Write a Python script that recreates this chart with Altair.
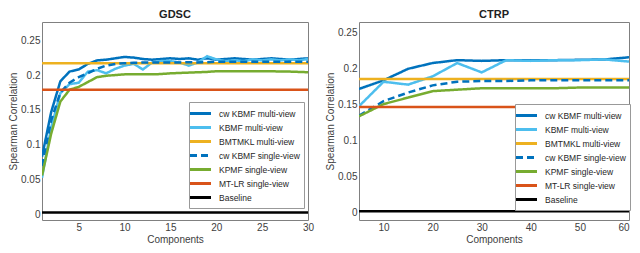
import altair as alt
import pandas as pd

methods = ["cw KBMF multi-view", "KBMF multi-view", "BMTMKL multi-view",
           "cw KBMF single-view", "KPMF single-view", "MT-LR single-view", "Baseline"]
colors = ["#0072BD", "#4DBEEE", "#EDB120", "#0072BD", "#77AC30", "#D95319", "#000000"]
dashes = [[1, 0], [1, 0], [1, 0], [7, 4], [1, 0], [1, 0], [1, 0]]

# GDSC
gdsc_x = list(range(1, 31))
gdsc_cw_multi = [0.083, 0.147, 0.191, 0.205, 0.208, 0.216, 0.221, 0.222, 0.224, 0.226,
                 0.225, 0.223, 0.222, 0.223, 0.224, 0.223, 0.224, 0.222, 0.224, 0.222,
                 0.223, 0.224, 0.223, 0.222, 0.223, 0.224, 0.223, 0.222, 0.223, 0.224]
gdsc_kbmf_multi = [0.053, 0.125, 0.174, 0.187, 0.189, 0.205, 0.207, 0.2025, 0.209, 0.2136,
                   0.216, 0.208, 0.218, 0.220, 0.220, 0.218, 0.2136, 0.218, 0.227, 0.2225,
                   0.220, 0.221, 0.220, 0.2225, 0.221, 0.2225, 0.221, 0.2225, 0.221, 0.223]
gdsc_cw_single = [0.070, 0.135, 0.175, 0.189, 0.197, 0.2025, 0.209, 0.2136, 0.216, 0.217,
                  0.2175, 0.218, 0.218, 0.218, 0.218, 0.218, 0.2185, 0.218, 0.2185, 0.219,
                  0.219, 0.219, 0.219, 0.219, 0.219, 0.219, 0.219, 0.219, 0.219, 0.219]
gdsc_kpmf = [0.056, 0.116, 0.162, 0.179, 0.183, 0.190, 0.197, 0.199, 0.200, 0.201,
             0.201, 0.201, 0.201, 0.2015, 0.2025, 0.203, 0.2035, 0.204, 0.2045, 0.2055,
             0.2055, 0.2055, 0.2055, 0.2055, 0.2055, 0.2055, 0.205, 0.205, 0.2045, 0.204]
gdsc_bmtmkl = 0.217
gdsc_mtlr = 0.179
gdsc_baseline = 0.003

# CTRP
ctrp_x = [5, 10, 15, 20, 25, 30, 35, 40, 45, 50, 55, 60]
ctrp_cw_multi = [0.171, 0.183, 0.199, 0.207, 0.211, 0.210, 0.211, 0.211, 0.211, 0.2115, 0.212, 0.215]
ctrp_kbmf_multi = [0.147, 0.181, 0.177, 0.1885, 0.207, 0.194, 0.211, 0.210, 0.211, 0.211, 0.212, 0.209]
ctrp_cw_single = [0.134, 0.154, 0.166, 0.176, 0.181, 0.182, 0.182, 0.183, 0.183, 0.183, 0.183, 0.183]
ctrp_kpmf = [0.133, 0.150, 0.159, 0.168, 0.170, 0.172, 0.172, 0.172, 0.172, 0.173, 0.173, 0.173]
ctrp_bmtmkl = 0.185
ctrp_mtlr = 0.146
ctrp_baseline = 0.001

y_ticks = [0, 0.05, 0.1, 0.15, 0.2, 0.25]


def build_df(xs, cw_multi, kbmf_multi, bmtmkl, cw_single, kpmf, mtlr, baseline):
    rows = []
    curves = {methods[0]: cw_multi, methods[1]: kbmf_multi,
              methods[3]: cw_single, methods[4]: kpmf}
    consts = {methods[2]: bmtmkl, methods[5]: mtlr, methods[6]: baseline}
    for m in methods:
        if m in curves:
            for x, v in zip(xs, curves[m]):
                rows.append({"m": m, "x": x, "v": v})
        else:
            for x in (xs[0], xs[-1]):
                rows.append({"m": m, "x": x, "v": consts[m]})
    return pd.DataFrame(rows)


def panel(title, df, xdom, xticks, ydom, width, height, lx, ly, flush):
    leg = alt.Legend(orient="none", legendX=lx, legendY=ly, title=None,
                     direction="vertical", symbolType="M-1.75,0H1.75", symbolStrokeWidth=3,
                     symbolSize=144, labelFontSize=8.5, labelFont="Liberation Sans",
                     labelColor="#262626", rowPadding=0, padding=4,
                     strokeColor="#999999", fillColor="white", labelOffset=11)
    return alt.Chart(df).mark_line(strokeWidth=2.5, clip=True).encode(
        x=alt.X("x:Q", scale=alt.Scale(domain=xdom, nice=False, zero=False),
                axis=alt.Axis(values=xticks, title="Components", labelFlush=flush)),
        y=alt.Y("v:Q", scale=alt.Scale(domain=ydom, nice=False, zero=False),
                axis=alt.Axis(values=y_ticks, format="~g", title="Spearman Correlation")),
        color=alt.Color("m:N", scale=alt.Scale(domain=methods, range=colors), legend=leg),
        strokeDash=alt.StrokeDash("m:N", scale=alt.Scale(domain=methods, range=dashes), legend=leg),
    ).properties(width=width, height=height, title=title)


gdsc_df = build_df(gdsc_x, gdsc_cw_multi, gdsc_kbmf_multi, gdsc_bmtmkl,
                   gdsc_cw_single, gdsc_kpmf, gdsc_mtlr, gdsc_baseline)
ctrp_df = build_df(ctrp_x, ctrp_cw_multi, ctrp_kbmf_multi, ctrp_bmtmkl,
                   ctrp_cw_single, ctrp_kpmf, ctrp_mtlr, ctrp_baseline)

left = panel("GDSC", gdsc_df, [1, 30], [5, 10, 15, 20, 25, 30], [-0.0076, 0.276],
             266, 198, 147, 80, False)
right = panel("CTRP", ctrp_df, [5, 60], [10, 20, 30, 40, 50, 60], [-0.011, 0.264],
              270, 198, 156, 82, True)

chart = alt.hconcat(left, right, spacing=10).resolve_legend(
    color="independent", strokeDash="independent"
).properties(padding=0).configure_view(
    stroke="#808080", strokeWidth=1
).configure_axis(
    domain=False, ticks=False, grid=False,
    labelFont="Liberation Sans", labelFontSize=10, labelColor="#404040", labelPadding=2,
    titleFont="Liberation Sans", titleFontSize=10, titleFontWeight="normal",
    titleColor="#404040", titlePadding=2
).configure_title(
    font="Liberation Sans", fontSize=11, fontWeight="bold", color="#222222", offset=2
)

chart.save("out.html", embed_options={"renderer": "svg", "actions": False})
